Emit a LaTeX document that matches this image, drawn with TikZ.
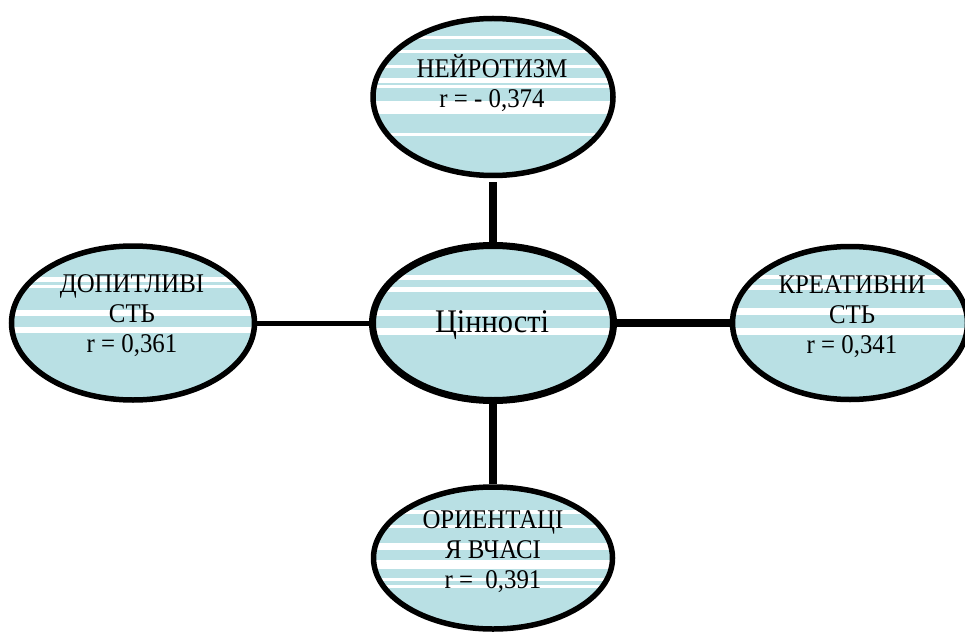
\documentclass[tikz,border=0pt]{standalone}
\usepackage{fontspec}
\setmainfont{Liberation Serif}
\newfontfamily\ovalfont[FakeStretch=0.92]{Liberation Serif}
\usetikzlibrary{shapes.geometric}
\definecolor{paleblue}{RGB}{185,224,228}

\begin{document}
\begin{tikzpicture}
  [
    x=1pt, y=-1pt,
    oval/.style={ellipse,draw,line width=5.5pt,fill=paleblue,inner sep=0pt},
    bands/.style={path picture={
        \foreach \a/\b in {#1} {
          \fill[white] ([yshift=\a pt]path picture bounding box.west) rectangle
                       ([yshift=\b pt]path picture bounding box.east);
        }}},
    txt/.style={align=center,font=\ovalfont\fontsize{27}{30}\selectfont},
    link/.style={line width=8pt}
  ]
  \useasboundingbox (0,0) rectangle (965,636);
  % centre
  \node (cinn) [oval,line width=7pt,minimum width=241pt,minimum height=155pt,
    bands={48/43,36/31,13/7,-5/-12}] at (493,323) {};
  \node (cinntxt) [font=\ovalfont\fontsize{33}{36}\selectfont] at (492,325) {Цінності};
  % top
  \node (neuro) [oval,minimum width=240pt,minimum height=157pt,
    bands={61/58,47/44,32/29,19/14,12/9,-4/-17,-36/-39}] at (493,97) {};
  \node (neurotxt) [txt] at (492,83) {НЕЙРОТИЗМ\\r = - 0,374};
  % left
  \node (dopyt) [oval,minimum width=243pt,minimum height=154pt,
    bands={46/41,38/35,13/7,-4/-10}] at (133,323) {};
  \node (dopyttxt) [txt] at (132,316) {ДОПИТЛИВІ\\СТЬ\\r = 0,361};
  % right
  \node (kreat) [oval,minimum width=235pt,minimum height=153pt,
    bands={48/44,38/33,15/8,-5/-12}] at (850,323) {};
  \node (kreattxt) [txt] at (852,317) {КРЕАТИВНИ\\СТЬ\\r = 0,341};
  % bottom
  \node (orient) [oval,minimum width=239pt,minimum height=142pt,
    bands={48/44,33/30,15/8,-2/-11,-20/-23,-27/-30}] at (493,558) {};
  \node (orienttxt) [txt] at (493,552) {ОРИЕНТАЦІ\\Я ВЧАСІ\\r =\ \ 0,391};
  % links
  \draw [link,shorten <=4pt] (neuro) -- (cinn);
  \draw [link] (cinn) -- (orient);
  \draw [link,line width=5pt] (dopyt) -- (cinn);
  \draw [link] (cinn) -- (kreat);
\end{tikzpicture}
\end{document}
